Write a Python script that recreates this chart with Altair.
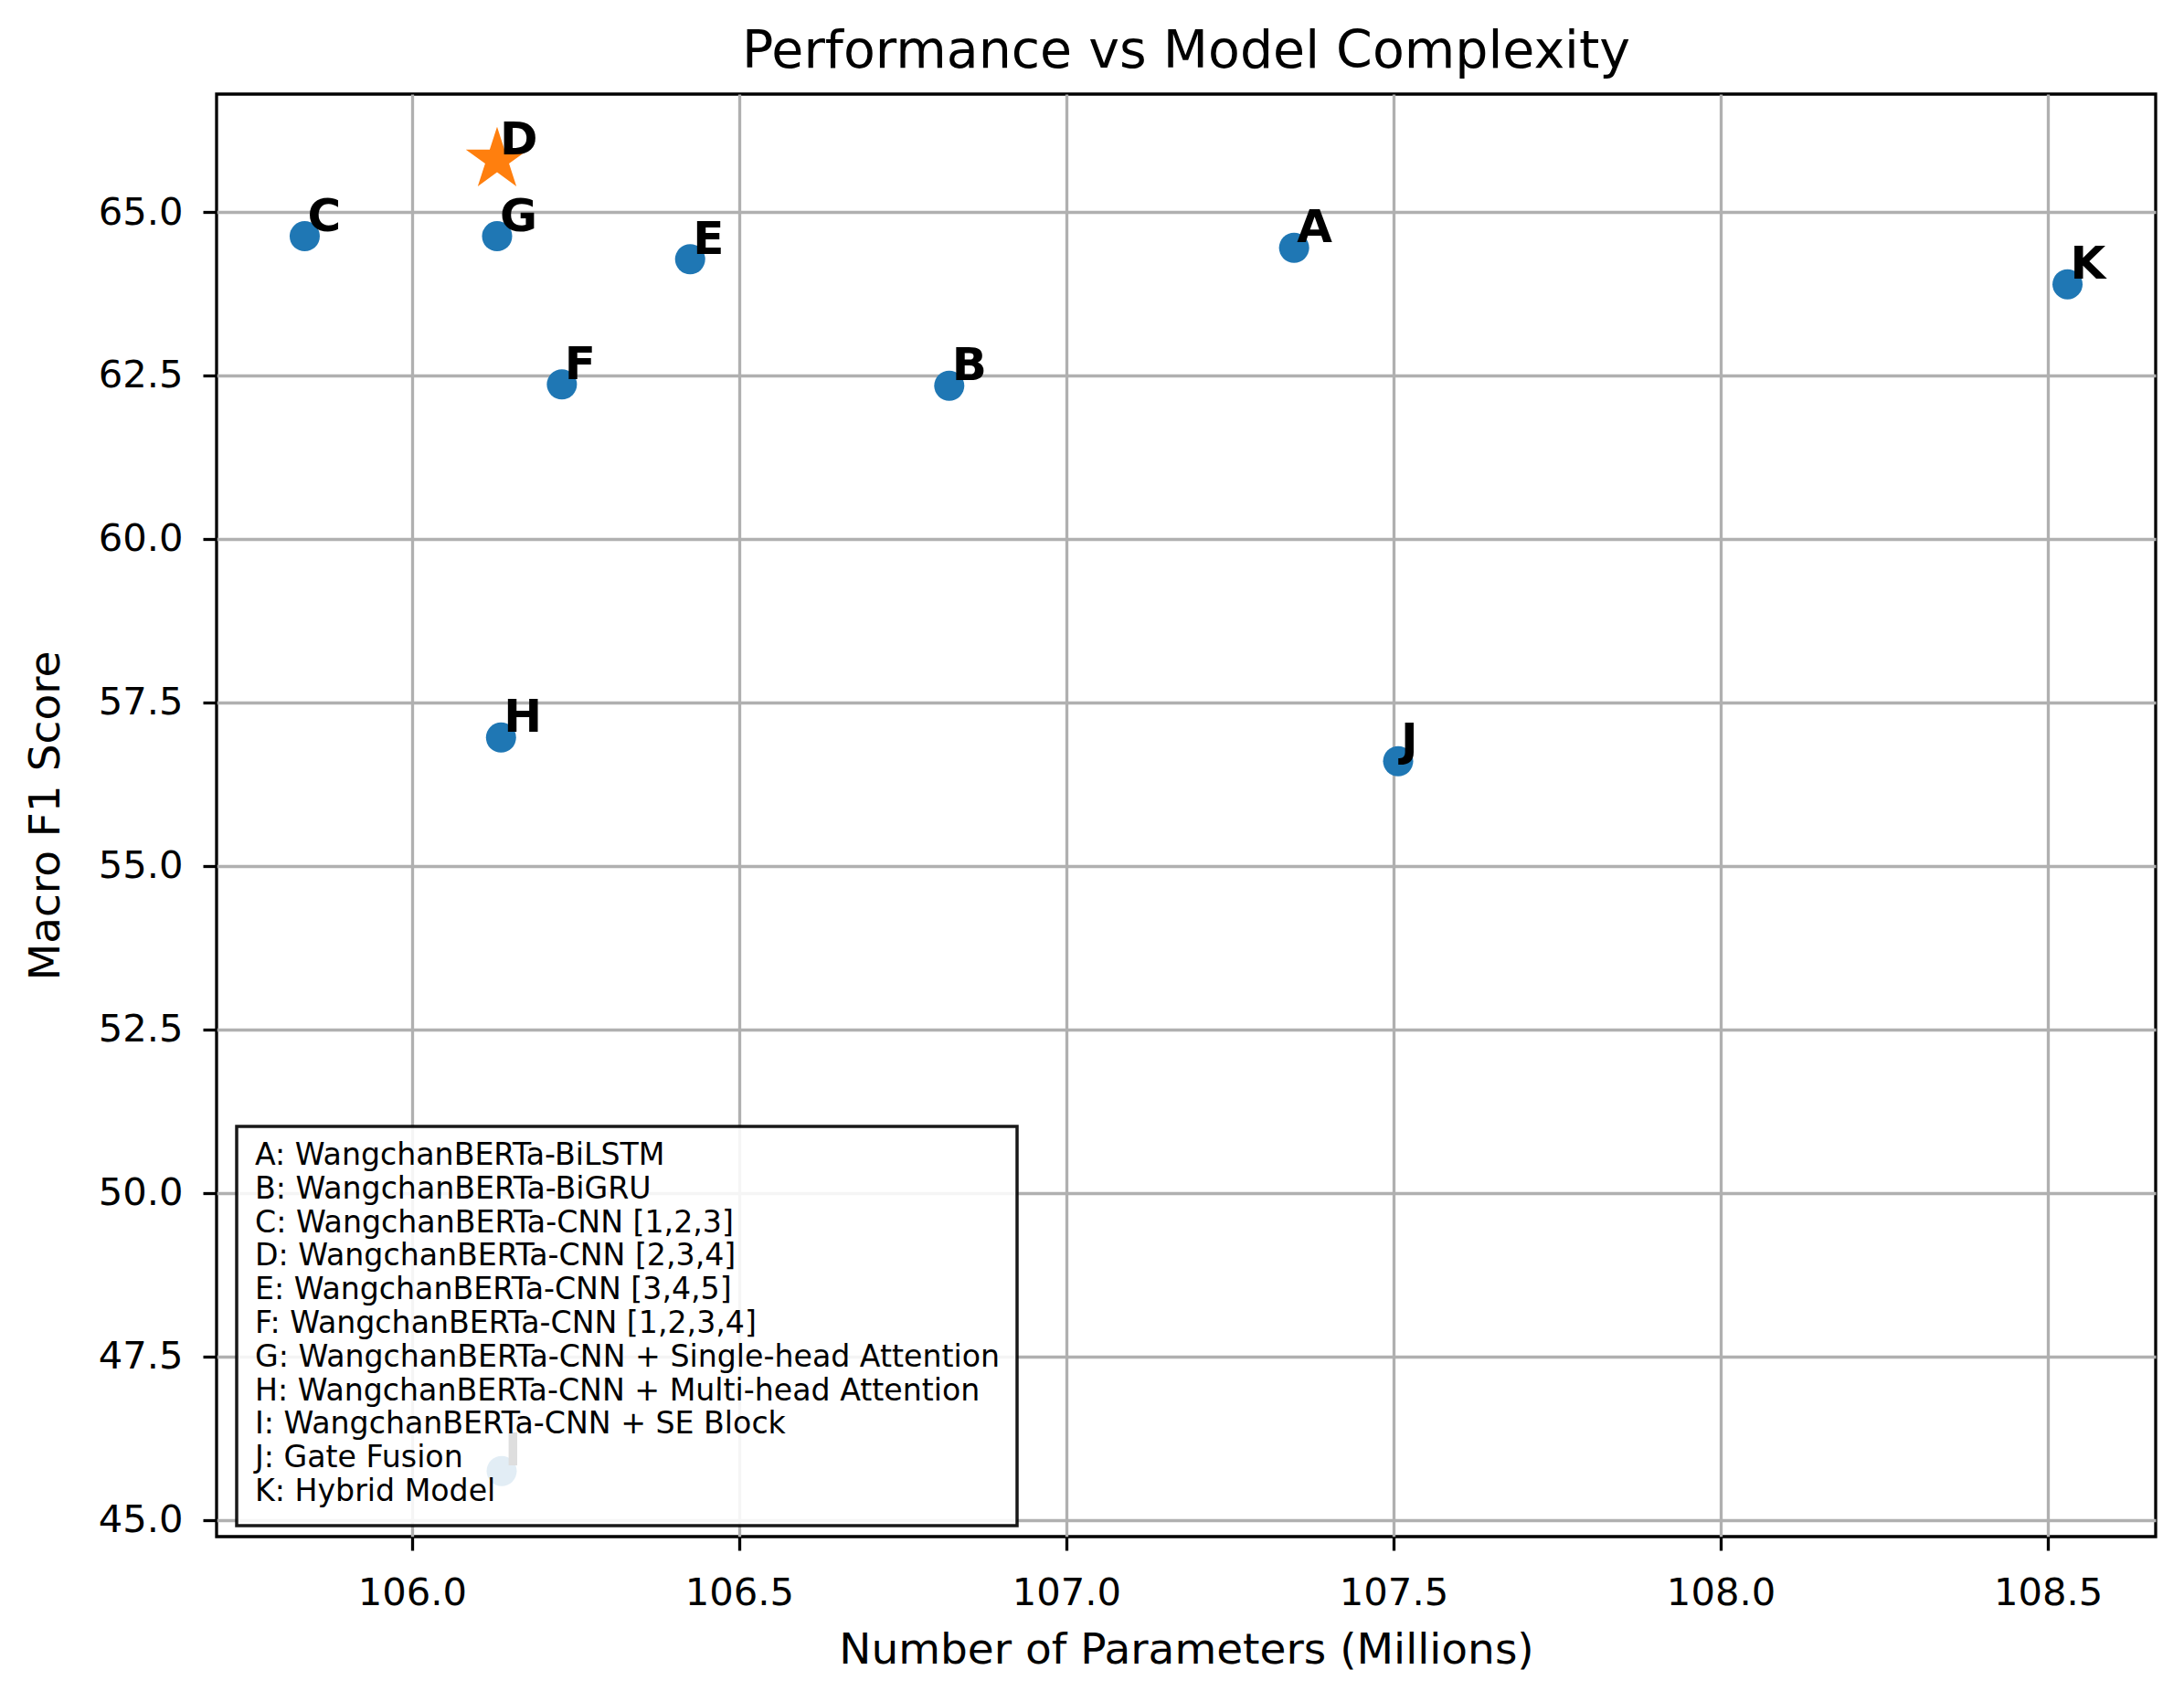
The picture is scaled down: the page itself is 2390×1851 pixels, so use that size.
import math

import altair as alt
import pandas as pd

# Model identifiers, descriptions and results
labels = ["A", "B", "C", "D", "E", "F", "G", "H", "I", "J", "K"]
names = [
    "WangchanBERTa-BiLSTM",
    "WangchanBERTa-BiGRU",
    "WangchanBERTa-CNN [1,2,3]",
    "WangchanBERTa-CNN [2,3,4]",
    "WangchanBERTa-CNN [3,4,5]",
    "WangchanBERTa-CNN [1,2,3,4]",
    "WangchanBERTa-CNN + Single-head Attention",
    "WangchanBERTa-CNN + Multi-head Attention",
    "WangchanBERTa-CNN + SE Block",
    "Gate Fusion",
    "Hybrid Model",
]
params_m = [107.348, 106.821, 105.836, 106.130, 106.425, 106.229,
            106.130, 106.136, 106.137, 107.507, 108.530]
macro_f1 = [64.452, 62.342, 64.629, 65.800, 64.277, 62.363,
            64.629, 56.962, 45.745, 56.600, 63.894]
best_model = "D"

x_ticks = [106.0, 106.5, 107.0, 107.5, 108.0, 108.5]
y_ticks = [45.0, 47.5, 50.0, 52.5, 55.0, 57.5, 60.0, 62.5, 65.0]

df = pd.DataFrame({"label": labels, "name": names,
                   "params": params_m, "f1": macro_f1})
df["best"] = df["label"] == best_model

FONT = "DejaVu Sans"
W, H = 2122, 1579

# Five-pointed star symbol in Vega's unit (-1..1) coordinates
star_pts = []
for k in range(10):
    r = 1.0 if k % 2 == 0 else 0.381966
    a = math.radians(-90 + 36 * k)
    star_pts.append(f"{r * math.cos(a):.4f},{r * math.sin(a):.4f}")
STAR_PATH = "M" + " L".join(star_pts) + " Z"

# 5% padding around the data, like the default matplotlib margins
xr = max(params_m) - min(params_m)
yr = max(macro_f1) - min(macro_f1)
x_dom = [min(params_m) - 0.05 * xr, max(params_m) + 0.05 * xr]
y_dom = [min(macro_f1) - 0.05 * yr, max(macro_f1) + 0.05 * yr]

x_enc = alt.X("params:Q", title="Number of Parameters (Millions)",
              scale=alt.Scale(domain=x_dom, nice=False, zero=False),
              axis=alt.Axis(values=x_ticks, format=".1f", titleY=124,
                            labelPadding=26, titleBaseline="middle"))
y_enc = alt.Y("f1:Q", title="Macro F1 Score",
              scale=alt.Scale(domain=y_dom, nice=False, zero=False),
              axis=alt.Axis(values=y_ticks, format=".1f", titleX=-187,
                            labelPadding=22,
                            titleY=H / 2, titleAngle=270,
                            titleBaseline="middle", titleAlign="center"))

base = alt.Chart(df).encode(x=x_enc, y=y_enc)

dots = base.transform_filter("!datum.best").mark_point(
    shape="circle", filled=True, size=1089, color="#1f77b4", opacity=1)
star = base.transform_filter("datum.best").mark_point(
    shape=STAR_PATH, filled=True, size=5184, color="#ff7f0e", opacity=1)
tags = base.mark_text(align="left", baseline="alphabetic", dx=3, dy=-6,
                      font=FONT, fontWeight="bold", fontSize=50,
                      color="black").encode(text="label:N")

# Key box listing every model
key_lines = [f"{l}: {n}" for l, n in zip(labels, names)]
one = pd.DataFrame({"k": [0]})
key_box = alt.Chart(one).mark_rect(
    fill="white", fillOpacity=0.87, stroke="black", strokeOpacity=0.9,
    strokeWidth=3.5).encode(x=alt.value(22), x2=alt.value(876),
                            y=alt.value(1130), y2=alt.value(1567))
key_text = alt.Chart(one).mark_text(
    text=key_lines, align="left", baseline="alphabetic", font=FONT,
    fontSize=33.2, lineHeight=36.8, color="black").encode(
    x=alt.value(42), y=alt.value(1172))

chart = alt.layer(dots, star, tags, key_box, key_text).properties(
    width=W, height=H,
    title=alt.TitleParams("Performance vs Model Complexity", font=FONT,
                          fontSize=57, fontWeight="normal", color="black",
                          baseline="alphabetic", offset=-28),
    autosize=alt.AutoSizeParams(type="none"),
    padding={"left": 237, "top": 103, "right": 31, "bottom": 169},
    background="white",
).configure_view(
    stroke="black", strokeWidth=3.3
).configure_axis(
    domain=False, grid=True, gridColor="#b0b0b0", gridWidth=3.3,
    ticks=True, tickColor="black", tickWidth=3.3, tickSize=15,
    labelFont=FONT, labelFontSize=41.7, labelColor="black",
    titleFont=FONT, titleFontSize=47, titleFontWeight="normal",
    titleColor="black",
)

chart.save("out.html", embed_options={"renderer": "svg", "actions": False})
